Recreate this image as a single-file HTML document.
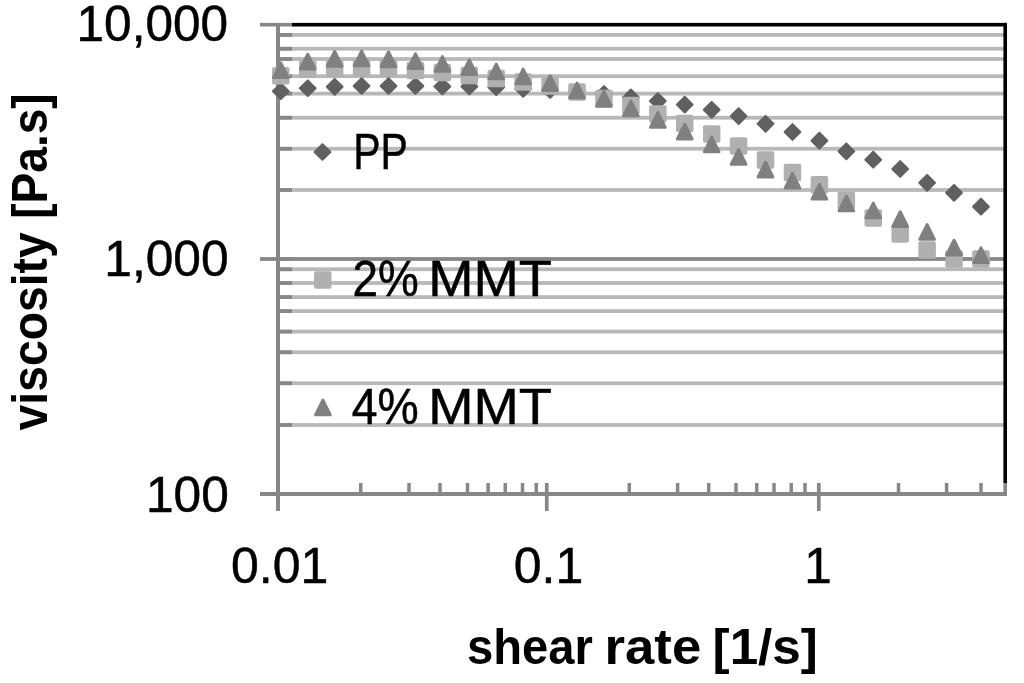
<!DOCTYPE html>
<html lang="en"><head><meta charset="utf-8"><title>viscosity vs shear rate</title>
<style>html,body{margin:0;padding:0;background:#fff}svg{display:block}</style></head>
<body>
<svg width="1024" height="683" viewBox="0 0 1024 683">
<rect width="1024" height="683" fill="#fff"/>
<rect x="280" y="33.00" width="724" height="3.8" fill="#b8b8b8"/>
<rect x="280" y="46.85" width="724" height="3.8" fill="#b8b8b8"/>
<rect x="280" y="57.10" width="724" height="3.8" fill="#b8b8b8"/>
<rect x="280" y="74.30" width="724" height="3.8" fill="#b8b8b8"/>
<rect x="280" y="91.70" width="724" height="3.8" fill="#b8b8b8"/>
<rect x="280" y="115.85" width="724" height="3.8" fill="#b8b8b8"/>
<rect x="280" y="146.85" width="724" height="3.8" fill="#b8b8b8"/>
<rect x="280" y="188.10" width="724" height="3.8" fill="#b8b8b8"/>
<rect x="280" y="267.35" width="724" height="3.8" fill="#b8b8b8"/>
<rect x="280" y="281.10" width="724" height="3.8" fill="#b8b8b8"/>
<rect x="280" y="295.20" width="724" height="3.8" fill="#b8b8b8"/>
<rect x="280" y="309.20" width="724" height="3.8" fill="#b8b8b8"/>
<rect x="280" y="329.70" width="724" height="3.8" fill="#b8b8b8"/>
<rect x="280" y="350.35" width="724" height="3.8" fill="#b8b8b8"/>
<rect x="280" y="381.35" width="724" height="3.8" fill="#b8b8b8"/>
<rect x="280" y="423.10" width="724" height="3.8" fill="#b8b8b8"/>
<rect x="280" y="257.10" width="724" height="3.8" fill="#878787"/>
<rect x="292" y="22.90" width="715" height="3.6" fill="#000"/>
<rect x="1003.4" y="22.90" width="3.6" height="460.10" fill="#000"/>
<rect x="1003.4" y="483" width="3.6" height="13" fill="#878787"/>
<rect x="276" y="22.90" width="4" height="488.10" fill="#878787"/>
<rect x="260" y="492" width="747" height="4" fill="#878787"/>
<rect x="260" y="22.90" width="32" height="3.6" fill="#878787"/>
<rect x="260" y="257.10" width="32" height="3.8" fill="#878787"/>
<rect x="280" y="33.00" width="12" height="3.8" fill="#878787"/>
<rect x="280" y="46.85" width="12" height="3.8" fill="#878787"/>
<rect x="280" y="57.10" width="12" height="3.8" fill="#878787"/>
<rect x="280" y="74.30" width="12" height="3.8" fill="#878787"/>
<rect x="280" y="91.70" width="12" height="3.8" fill="#878787"/>
<rect x="280" y="115.85" width="12" height="3.8" fill="#878787"/>
<rect x="280" y="146.85" width="12" height="3.8" fill="#878787"/>
<rect x="280" y="188.10" width="12" height="3.8" fill="#878787"/>
<rect x="280" y="267.35" width="12" height="3.8" fill="#878787"/>
<rect x="280" y="281.10" width="12" height="3.8" fill="#878787"/>
<rect x="280" y="295.20" width="12" height="3.8" fill="#878787"/>
<rect x="280" y="309.20" width="12" height="3.8" fill="#878787"/>
<rect x="280" y="329.70" width="12" height="3.8" fill="#878787"/>
<rect x="280" y="350.35" width="12" height="3.8" fill="#878787"/>
<rect x="280" y="381.35" width="12" height="3.8" fill="#878787"/>
<rect x="280" y="423.10" width="12" height="3.8" fill="#878787"/>
<rect x="359.00" y="483" width="3.5" height="10" fill="#878787"/>
<rect x="407.25" y="483" width="3.5" height="10" fill="#878787"/>
<rect x="438.25" y="483" width="3.5" height="10" fill="#878787"/>
<rect x="465.75" y="483" width="3.5" height="10" fill="#878787"/>
<rect x="486.35" y="483" width="3.5" height="10" fill="#878787"/>
<rect x="503.50" y="483" width="3.5" height="10" fill="#878787"/>
<rect x="520.75" y="483" width="3.5" height="10" fill="#878787"/>
<rect x="534.50" y="483" width="3.5" height="10" fill="#878787"/>
<rect x="627.50" y="483" width="3.5" height="10" fill="#878787"/>
<rect x="675.85" y="483" width="3.5" height="10" fill="#878787"/>
<rect x="706.95" y="483" width="3.5" height="10" fill="#878787"/>
<rect x="734.25" y="483" width="3.5" height="10" fill="#878787"/>
<rect x="755.05" y="483" width="3.5" height="10" fill="#878787"/>
<rect x="772.25" y="483" width="3.5" height="10" fill="#878787"/>
<rect x="789.45" y="483" width="3.5" height="10" fill="#878787"/>
<rect x="803.25" y="483" width="3.5" height="10" fill="#878787"/>
<rect x="896.75" y="483" width="3.5" height="10" fill="#878787"/>
<rect x="944.85" y="483" width="3.5" height="10" fill="#878787"/>
<rect x="979.25" y="483" width="3.5" height="10" fill="#878787"/>
<rect x="544.90" y="483" width="3.7" height="28" fill="#878787"/>
<rect x="816.95" y="483" width="3.7" height="28" fill="#878787"/>
<path d="M280.80 83.35L288.70 91.25L280.80 99.15L272.90 91.25Z" fill="#606060" stroke="#606060" stroke-width="2" stroke-linejoin="round"/>
<path d="M307.73 80.35L315.63 88.25L307.73 96.15L299.83 88.25Z" fill="#606060" stroke="#606060" stroke-width="2" stroke-linejoin="round"/>
<path d="M334.66 78.90L342.56 86.80L334.66 94.70L326.76 86.80Z" fill="#606060" stroke="#606060" stroke-width="2" stroke-linejoin="round"/>
<path d="M361.59 78.10L369.49 86.00L361.59 93.90L353.69 86.00Z" fill="#606060" stroke="#606060" stroke-width="2" stroke-linejoin="round"/>
<path d="M388.52 78.10L396.42 86.00L388.52 93.90L380.62 86.00Z" fill="#606060" stroke="#606060" stroke-width="2" stroke-linejoin="round"/>
<path d="M415.45 78.10L423.35 86.00L415.45 93.90L407.55 86.00Z" fill="#606060" stroke="#606060" stroke-width="2" stroke-linejoin="round"/>
<path d="M442.38 78.60L450.28 86.50L442.38 94.40L434.48 86.50Z" fill="#606060" stroke="#606060" stroke-width="2" stroke-linejoin="round"/>
<path d="M469.31 78.60L477.21 86.50L469.31 94.40L461.41 86.50Z" fill="#606060" stroke="#606060" stroke-width="2" stroke-linejoin="round"/>
<path d="M496.24 79.35L504.14 87.25L496.24 95.15L488.34 87.25Z" fill="#606060" stroke="#606060" stroke-width="2" stroke-linejoin="round"/>
<path d="M523.17 80.90L531.07 88.80L523.17 96.70L515.27 88.80Z" fill="#606060" stroke="#606060" stroke-width="2" stroke-linejoin="round"/>
<path d="M550.10 82.10L558.00 90.00L550.10 97.90L542.20 90.00Z" fill="#606060" stroke="#606060" stroke-width="2" stroke-linejoin="round"/>
<path d="M577.03 83.50L584.93 91.40L577.03 99.30L569.13 91.40Z" fill="#606060" stroke="#606060" stroke-width="2" stroke-linejoin="round"/>
<path d="M603.96 86.10L611.86 94.00L603.96 101.90L596.06 94.00Z" fill="#606060" stroke="#606060" stroke-width="2" stroke-linejoin="round"/>
<path d="M630.89 89.50L638.79 97.40L630.89 105.30L622.99 97.40Z" fill="#606060" stroke="#606060" stroke-width="2" stroke-linejoin="round"/>
<path d="M657.82 93.10L665.72 101.00L657.82 108.90L649.92 101.00Z" fill="#606060" stroke="#606060" stroke-width="2" stroke-linejoin="round"/>
<path d="M684.75 96.70L692.65 104.60L684.75 112.50L676.85 104.60Z" fill="#606060" stroke="#606060" stroke-width="2" stroke-linejoin="round"/>
<path d="M711.68 101.90L719.58 109.80L711.68 117.70L703.78 109.80Z" fill="#606060" stroke="#606060" stroke-width="2" stroke-linejoin="round"/>
<path d="M738.61 108.20L746.51 116.10L738.61 124.00L730.71 116.10Z" fill="#606060" stroke="#606060" stroke-width="2" stroke-linejoin="round"/>
<path d="M765.54 115.90L773.44 123.80L765.54 131.70L757.64 123.80Z" fill="#606060" stroke="#606060" stroke-width="2" stroke-linejoin="round"/>
<path d="M792.47 124.10L800.37 132.00L792.47 139.90L784.57 132.00Z" fill="#606060" stroke="#606060" stroke-width="2" stroke-linejoin="round"/>
<path d="M819.40 132.80L827.30 140.70L819.40 148.60L811.50 140.70Z" fill="#606060" stroke="#606060" stroke-width="2" stroke-linejoin="round"/>
<path d="M846.33 143.50L854.23 151.40L846.33 159.30L838.43 151.40Z" fill="#606060" stroke="#606060" stroke-width="2" stroke-linejoin="round"/>
<path d="M873.26 151.80L881.16 159.70L873.26 167.60L865.36 159.70Z" fill="#606060" stroke="#606060" stroke-width="2" stroke-linejoin="round"/>
<path d="M900.19 161.10L908.09 169.00L900.19 176.90L892.29 169.00Z" fill="#606060" stroke="#606060" stroke-width="2" stroke-linejoin="round"/>
<path d="M927.12 174.90L935.02 182.80L927.12 190.70L919.22 182.80Z" fill="#606060" stroke="#606060" stroke-width="2" stroke-linejoin="round"/>
<path d="M954.05 184.90L961.95 192.80L954.05 200.70L946.15 192.80Z" fill="#606060" stroke="#606060" stroke-width="2" stroke-linejoin="round"/>
<path d="M980.98 198.80L988.88 206.70L980.98 214.60L973.08 206.70Z" fill="#606060" stroke="#606060" stroke-width="2" stroke-linejoin="round"/>
<rect x="272.05" y="67.00" width="17.50" height="17.50" rx="2" fill="#b0b0b0"/>
<rect x="298.98" y="60.55" width="17.50" height="17.50" rx="2" fill="#b0b0b0"/>
<rect x="325.91" y="59.75" width="17.50" height="17.50" rx="2" fill="#b0b0b0"/>
<rect x="352.84" y="59.15" width="17.50" height="17.50" rx="2" fill="#b0b0b0"/>
<rect x="379.77" y="59.15" width="17.50" height="17.50" rx="2" fill="#b0b0b0"/>
<rect x="406.70" y="61.65" width="17.50" height="17.50" rx="2" fill="#b0b0b0"/>
<rect x="433.63" y="63.85" width="17.50" height="17.50" rx="2" fill="#b0b0b0"/>
<rect x="460.56" y="66.65" width="17.50" height="17.50" rx="2" fill="#b0b0b0"/>
<rect x="487.49" y="69.75" width="17.50" height="17.50" rx="2" fill="#b0b0b0"/>
<rect x="514.42" y="73.35" width="17.50" height="17.50" rx="2" fill="#b0b0b0"/>
<rect x="541.35" y="77.15" width="17.50" height="17.50" rx="2" fill="#b0b0b0"/>
<rect x="568.28" y="83.35" width="17.50" height="17.50" rx="2" fill="#b0b0b0"/>
<rect x="595.21" y="89.75" width="17.50" height="17.50" rx="2" fill="#b0b0b0"/>
<rect x="622.14" y="96.75" width="17.50" height="17.50" rx="2" fill="#b0b0b0"/>
<rect x="649.07" y="105.25" width="17.50" height="17.50" rx="2" fill="#b0b0b0"/>
<rect x="676.00" y="114.75" width="17.50" height="17.50" rx="2" fill="#b0b0b0"/>
<rect x="702.93" y="125.15" width="17.50" height="17.50" rx="2" fill="#b0b0b0"/>
<rect x="729.86" y="137.15" width="17.50" height="17.50" rx="2" fill="#b0b0b0"/>
<rect x="756.79" y="151.25" width="17.50" height="17.50" rx="2" fill="#b0b0b0"/>
<rect x="783.72" y="163.75" width="17.50" height="17.50" rx="2" fill="#b0b0b0"/>
<rect x="810.65" y="176.05" width="17.50" height="17.50" rx="2" fill="#b0b0b0"/>
<rect x="837.58" y="191.85" width="17.50" height="17.50" rx="2" fill="#b0b0b0"/>
<rect x="864.51" y="209.35" width="17.50" height="17.50" rx="2" fill="#b0b0b0"/>
<rect x="891.44" y="225.25" width="17.50" height="17.50" rx="2" fill="#b0b0b0"/>
<rect x="918.37" y="241.25" width="17.50" height="17.50" rx="2" fill="#b0b0b0"/>
<rect x="945.30" y="250.25" width="17.50" height="17.50" rx="2" fill="#b0b0b0"/>
<rect x="972.23" y="250.25" width="17.50" height="17.50" rx="2" fill="#b0b0b0"/>
<path d="M280.80 62.85L288.15 77.55L273.45 77.55Z" fill="#808080" stroke="#808080" stroke-width="3.0" stroke-linejoin="round"/>
<path d="M307.73 54.25L315.08 68.95L300.38 68.95Z" fill="#808080" stroke="#808080" stroke-width="3.0" stroke-linejoin="round"/>
<path d="M334.66 51.45L342.01 66.15L327.31 66.15Z" fill="#808080" stroke="#808080" stroke-width="3.0" stroke-linejoin="round"/>
<path d="M361.59 51.15L368.94 65.85L354.24 65.85Z" fill="#808080" stroke="#808080" stroke-width="3.0" stroke-linejoin="round"/>
<path d="M388.52 51.95L395.87 66.65L381.17 66.65Z" fill="#808080" stroke="#808080" stroke-width="3.0" stroke-linejoin="round"/>
<path d="M415.45 53.85L422.80 68.55L408.10 68.55Z" fill="#808080" stroke="#808080" stroke-width="3.0" stroke-linejoin="round"/>
<path d="M442.38 56.65L449.73 71.35L435.03 71.35Z" fill="#808080" stroke="#808080" stroke-width="3.0" stroke-linejoin="round"/>
<path d="M469.31 59.85L476.66 74.55L461.96 74.55Z" fill="#808080" stroke="#808080" stroke-width="3.0" stroke-linejoin="round"/>
<path d="M496.24 64.15L503.59 78.85L488.89 78.85Z" fill="#808080" stroke="#808080" stroke-width="3.0" stroke-linejoin="round"/>
<path d="M523.17 69.15L530.52 83.85L515.82 83.85Z" fill="#808080" stroke="#808080" stroke-width="3.0" stroke-linejoin="round"/>
<path d="M550.10 75.75L557.45 90.45L542.75 90.45Z" fill="#808080" stroke="#808080" stroke-width="3.0" stroke-linejoin="round"/>
<path d="M577.03 83.15L584.38 97.85L569.68 97.85Z" fill="#808080" stroke="#808080" stroke-width="3.0" stroke-linejoin="round"/>
<path d="M603.96 91.55L611.31 106.25L596.61 106.25Z" fill="#808080" stroke="#808080" stroke-width="3.0" stroke-linejoin="round"/>
<path d="M630.89 101.15L638.24 115.85L623.54 115.85Z" fill="#808080" stroke="#808080" stroke-width="3.0" stroke-linejoin="round"/>
<path d="M657.82 112.65L665.17 127.35L650.47 127.35Z" fill="#808080" stroke="#808080" stroke-width="3.0" stroke-linejoin="round"/>
<path d="M684.75 124.25L692.10 138.95L677.40 138.95Z" fill="#808080" stroke="#808080" stroke-width="3.0" stroke-linejoin="round"/>
<path d="M711.68 137.15L719.03 151.85L704.33 151.85Z" fill="#808080" stroke="#808080" stroke-width="3.0" stroke-linejoin="round"/>
<path d="M738.61 149.55L745.96 164.25L731.26 164.25Z" fill="#808080" stroke="#808080" stroke-width="3.0" stroke-linejoin="round"/>
<path d="M765.54 162.25L772.89 176.95L758.19 176.95Z" fill="#808080" stroke="#808080" stroke-width="3.0" stroke-linejoin="round"/>
<path d="M792.47 173.35L799.82 188.05L785.12 188.05Z" fill="#808080" stroke="#808080" stroke-width="3.0" stroke-linejoin="round"/>
<path d="M819.40 184.35L826.75 199.05L812.05 199.05Z" fill="#808080" stroke="#808080" stroke-width="3.0" stroke-linejoin="round"/>
<path d="M846.33 196.15L853.68 210.85L838.98 210.85Z" fill="#808080" stroke="#808080" stroke-width="3.0" stroke-linejoin="round"/>
<path d="M873.26 203.15L880.61 217.85L865.91 217.85Z" fill="#808080" stroke="#808080" stroke-width="3.0" stroke-linejoin="round"/>
<path d="M900.19 211.75L907.54 226.45L892.84 226.45Z" fill="#808080" stroke="#808080" stroke-width="3.0" stroke-linejoin="round"/>
<path d="M927.12 224.65L934.47 239.35L919.77 239.35Z" fill="#808080" stroke="#808080" stroke-width="3.0" stroke-linejoin="round"/>
<path d="M954.05 240.25L961.40 254.95L946.70 254.95Z" fill="#808080" stroke="#808080" stroke-width="3.0" stroke-linejoin="round"/>
<path d="M980.98 247.85L988.33 262.55L973.63 262.55Z" fill="#808080" stroke="#808080" stroke-width="3.0" stroke-linejoin="round"/>
<path d="M322.50 144.10L330.40 152.00L322.50 159.90L314.60 152.00Z" fill="#606060" stroke="#606060" stroke-width="2" stroke-linejoin="round"/>
<rect x="314.00" y="271.25" width="17.50" height="17.50" rx="2" fill="#b0b0b0"/>
<path d="M322.90 400.15L330.25 414.85L315.55 414.85Z" fill="#808080" stroke="#808080" stroke-width="3.0" stroke-linejoin="round"/>
<text y="41.25" font-size="50.6" font-weight="normal" font-family="&quot;Liberation Sans&quot;, sans-serif" fill="#000" stroke="#000" stroke-width="0.5"><tspan x="76.53" textLength="151.63" lengthAdjust="spacingAndGlyphs">10,000</tspan></text>
<text y="275.75" font-size="50.6" font-weight="normal" font-family="&quot;Liberation Sans&quot;, sans-serif" fill="#000" stroke="#000" stroke-width="0.5"><tspan x="104.27" textLength="124.34" lengthAdjust="spacingAndGlyphs">1,000</tspan></text>
<text y="511.50" font-size="50.6" font-weight="normal" font-family="&quot;Liberation Sans&quot;, sans-serif" fill="#000" stroke="#000" stroke-width="0.5"><tspan x="145.98" textLength="82.83" lengthAdjust="spacingAndGlyphs">100</tspan></text>
<text y="583.20" font-size="50.6" font-weight="normal" font-family="&quot;Liberation Sans&quot;, sans-serif" fill="#000" stroke="#000" stroke-width="0.5"><tspan x="231.00" textLength="97.31" lengthAdjust="spacingAndGlyphs">0.01</tspan></text>
<text y="583.20" font-size="50.6" font-weight="normal" font-family="&quot;Liberation Sans&quot;, sans-serif" fill="#000" stroke="#000" stroke-width="0.5"><tspan x="513.75" textLength="69.51" lengthAdjust="spacingAndGlyphs">0.1</tspan></text>
<text y="583.20" font-size="50.6" font-weight="normal" font-family="&quot;Liberation Sans&quot;, sans-serif" fill="#000" stroke="#000" stroke-width="0.5"><tspan x="804.29" textLength="27.49" lengthAdjust="spacingAndGlyphs">1</tspan></text>
<text y="169.00" font-size="50.6" font-weight="normal" font-family="&quot;Liberation Sans&quot;, sans-serif" fill="#000" stroke="#000" stroke-width="0.5"><tspan x="353.23" textLength="54.58" lengthAdjust="spacingAndGlyphs">PP</tspan></text>
<text y="296.30" font-size="50.6" font-weight="normal" font-family="&quot;Liberation Sans&quot;, sans-serif" fill="#000" stroke="#000" stroke-width="0.5"><tspan x="352.46" textLength="66.26" lengthAdjust="spacingAndGlyphs">2%</tspan> <tspan x="428.15" textLength="123.79" lengthAdjust="spacingAndGlyphs">MMT</tspan></text>
<text y="423.50" font-size="50.6" font-weight="normal" font-family="&quot;Liberation Sans&quot;, sans-serif" fill="#000" stroke="#000" stroke-width="0.5"><tspan x="351.74" textLength="67.00" lengthAdjust="spacingAndGlyphs">4%</tspan> <tspan x="428.15" textLength="123.79" lengthAdjust="spacingAndGlyphs">MMT</tspan></text>
<text y="664.25" font-size="50.5" font-weight="bold" font-family="&quot;Liberation Sans&quot;, sans-serif" fill="#000"><tspan x="467.10" textLength="125.79" lengthAdjust="spacingAndGlyphs">shear</tspan> <tspan x="604.47" textLength="96.75" lengthAdjust="spacingAndGlyphs">rate</tspan> <tspan x="712.58" textLength="105.29" lengthAdjust="spacingAndGlyphs">[1/s]</tspan></text>
<g transform="translate(47.25,430.25) rotate(-90)"><text y="0.00" font-size="50.5" font-weight="bold" font-family="&quot;Liberation Sans&quot;, sans-serif" fill="#000"><tspan x="-0.23" textLength="198.23" lengthAdjust="spacingAndGlyphs">viscosity</tspan> <tspan x="211.47" textLength="125.47" lengthAdjust="spacingAndGlyphs">[Pa.s]</tspan></text></g>
</svg>
</body></html>
